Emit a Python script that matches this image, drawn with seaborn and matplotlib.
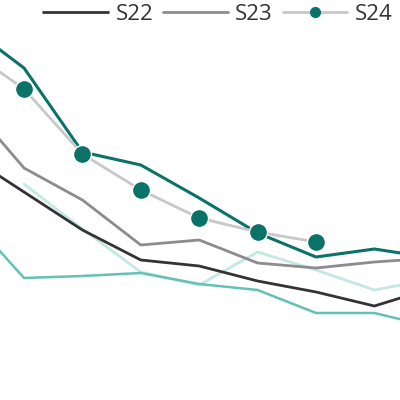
import matplotlib
matplotlib.use("Agg")
import matplotlib.pyplot as plt
from matplotlib.lines import Line2D
import seaborn as sns
import numpy as np
import pandas as pd

sns.set_theme(style="white")
plt.rcParams['font.family'] = ['Open Sans', 'DejaVu Sans']

periods = list(range(9))
s22 = [61.5, 52.0, 42.5, 35.0, 33.5, 29.75, 27.0, 23.5, 28.0]
s23 = [75.0, 58.0, 50.0, 38.75, 40.0, 34.25, 33.0, 34.5, 35.5]
s24 = [88.0, 77.75, 61.5, 52.5, 45.5, 42.0, 39.5, np.nan, np.nan]
ref_dark = [94.0, 83.0, 62.0, 58.75, 50.5, 41.75, 35.75, 37.75, 35.5]
ref_mid = [46.75, 30.5, 31.0, 31.75, 29.0, 27.5, 21.75, 21.75, 18.25]
ref_pale = [np.nan, 54.0, 42.75, 32.0, 28.75, 37.0, 32.5, 27.5, 30.25]

fig = plt.figure(figsize=(4, 4), dpi=100)
ax = fig.add_axes([0, 0, 1, 1])

def draw(vals, color, lw, **kw):
    df = pd.DataFrame({"x": periods, "y": vals}).dropna()
    sns.lineplot(data=df, x="x", y="y", ax=ax, color=color, linewidth=lw,
                 legend=False, **kw)

draw(ref_pale, "#c4e8e2", 2.0)
draw(ref_mid, "#62c2b3", 1.8)
draw(s22, "#333333", 2.0)
draw(s23, "#8c8c8c", 2.0)
draw(ref_dark, "#0b7268", 2.2)
draw(s24, "#c8c8c8", 2.0, marker="o", markersize=13,
     markerfacecolor="#0b7268", markeredgecolor="white", markeredgewidth=1.0)

ax.set_xlim(0.589, 7.438)
ax.set_ylim(0, 100)
ax.axis("off")

handles = [
    Line2D([], [], color="#333333", lw=2.0),
    Line2D([], [], color="#8c8c8c", lw=2.0),
    Line2D([], [], color="#c8c8c8", lw=2.0, marker="o", markersize=7,
           markerfacecolor="#0b7268", markeredgecolor="#0b7268"),
]
leg = fig.legend(handles, ["S22", "S23", "S24"], loc="upper center",
                 bbox_to_anchor=(0.545, 1.012), ncol=3, frameon=False,
                 fontsize=16, handlelength=2.9, handletextpad=0.35,
                 columnspacing=0.45, borderaxespad=0)
for t in leg.get_texts():
    t.set_color("#333333")

fig.savefig("out.png", dpi=100, facecolor="white")
